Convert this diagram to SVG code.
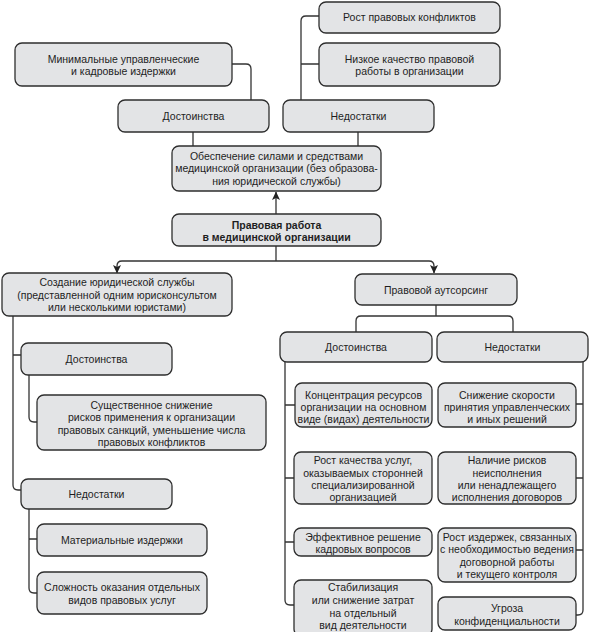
<svg xmlns="http://www.w3.org/2000/svg" width="590" height="632" viewBox="0 0 590 632">
<style>
.b{fill:#e3e4e6;stroke:#2e2e2e;stroke-width:1.3}
.t{font-family:"Liberation Sans",Arial,sans-serif;font-size:10.5px;fill:#1e1e1e;text-anchor:middle}
.bold{font-weight:bold}
.c{fill:none;stroke:#333;stroke-width:1.3}
</style>
<defs>
<marker id="ah" markerUnits="userSpaceOnUse" markerWidth="9" markerHeight="9" refX="8" refY="4.5" orient="auto" viewBox="0 0 9 9">
<path d="M0,0.5 L8.5,4.5 L0,8.5 L2,4.5 z" fill="#222"/>
</marker>
</defs>
<rect width="590" height="632" fill="#fff"/>
<g id="connectors">
<path class="c" d="M232,64 H246 Q251,64 251,69 V100"/>
<path class="c" d="M319,16 H306 Q301,16 301,21 V100 M301,64 H319"/>
<path class="c" d="M193,132 V146 M358,132 V146"/>
<path class="c" d="M276,214 V192" marker-end="url(#ah)"/>
<path class="c" d="M276,245 V261"/>
<path class="c" d="M276,261 H122 Q117,261 117,266 V273" marker-end="url(#ah)"/>
<path class="c" d="M276,261 H429 Q434,261 434,266 V273" marker-end="url(#ah)"/>
<path class="c" d="M436,305 V316 M436,316 H361 Q356,316 356,321 V332 M436,316 H508 Q513,316 513,321 V332"/>
<path class="c" d="M13,316 V485 Q13,490 18,490 H21 M13,355 H21"/>
<path class="c" d="M29,375 V417 Q29,422 34,422 H37"/>
<path class="c" d="M29,509 V588 Q29,593 34,593 H37 M29,539 H37"/>
<path class="c" d="M285,362 V600 Q285,605 290,605 H294 M285,405 H295 M285,478 H294 M285,542 H294"/>
<path class="c" d="M583,362 V610 Q583,615 578,615 H576 M583,404 H576 M583,478 H576 M583,550 H576"/>
</g>
<g id="n_min"><rect class="b" x="15" y="43" width="217" height="43" rx="7"/><text class="t" x="123.5" y="63">Минимальные управленческие</text><text class="t" x="123.5" y="75">и кадровые издержки</text></g>
<g id="n_rost"><rect class="b" x="319" y="2" width="181" height="31" rx="7"/><text class="t" x="409.5" y="21">Рост правовых конфликтов</text></g>
<g id="n_nizk"><rect class="b" x="319" y="43" width="181" height="43" rx="7"/><text class="t" x="409.5" y="63">Низкое качество правовой</text><text class="t" x="409.5" y="75">работы в организации</text></g>
<g id="n_dost1"><rect class="b" x="118" y="100" width="151" height="32" rx="7"/><text class="t" x="193.5" y="120">Достоинства</text></g>
<g id="n_ned1"><rect class="b" x="283" y="100" width="151" height="32" rx="7"/><text class="t" x="358.5" y="120">Недостатки</text></g>
<g id="n_obesp"><rect class="b" x="172" y="146" width="209" height="45" rx="7"/><text class="t" x="276.5" y="160">Обеспечение силами и средствами</text><text class="t" x="276.5" y="172">медицинской организации (без образова-</text><text class="t" x="276.5" y="184.5">ния юридической службы)</text></g>
<g id="n_main"><rect class="b" x="172" y="214" width="209" height="32" rx="7"/><text class="t bold" x="276.5" y="229">Правовая работа</text><text class="t bold" x="276.5" y="241">в медицинской организации</text></g>
<g id="n_sozd"><rect class="b" x="2" y="273" width="230" height="43" rx="7"/><text class="t" x="117" y="286">Создание юридической службы</text><text class="t" x="117" y="298.5">(представленной одним юрисконсультом</text><text class="t" x="117" y="311">или несколькими юристами)</text></g>
<g id="n_dost2"><rect class="b" x="21" y="343" width="151" height="32" rx="7"/><text class="t" x="96.5" y="363">Достоинства</text></g>
<g id="n_sush"><rect class="b" x="37" y="395" width="229" height="55" rx="7"/><text class="t" x="151.5" y="408.5">Существенное снижение</text><text class="t" x="151.5" y="421">рисков применения к организации</text><text class="t" x="151.5" y="433.5">правовых санкций, уменьшение числа</text><text class="t" x="151.5" y="446">правовых конфликтов</text></g>
<g id="n_ned2"><rect class="b" x="21" y="479" width="151" height="30" rx="7"/><text class="t" x="96.5" y="497.5">Недостатки</text></g>
<g id="n_mat"><rect class="b" x="37" y="524" width="170" height="32" rx="7"/><text class="t" x="122" y="543.5">Материальные издержки</text></g>
<g id="n_slozh"><rect class="b" x="37" y="572" width="170" height="42" rx="7"/><text class="t" x="122" y="591">Сложность оказания отдельных</text><text class="t" x="122" y="604">видов правовых услуг</text></g>
<g id="n_auts"><rect class="b" x="355" y="274" width="162" height="31" rx="7"/><text class="t" x="436" y="293.5">Правовой аутсорсинг</text></g>
<g id="n_dost3"><rect class="b" x="280" y="332" width="152" height="30" rx="7"/><text class="t" x="356" y="350.5">Достоинства</text></g>
<g id="n_ned3"><rect class="b" x="437" y="332" width="151" height="30" rx="7"/><text class="t" x="512.5" y="350.5">Недостатки</text></g>
<g id="n_konc"><rect class="b" x="295" y="383" width="137" height="44" rx="7"/><text class="t" x="363.5" y="399">Концентрация ресурсов</text><text class="t" x="363.5" y="411">организации на основном</text><text class="t" x="363.5" y="422.5">виде (видах) деятельности</text></g>
<g id="n_snizh"><rect class="b" x="438" y="383" width="138" height="44" rx="7"/><text class="t" x="507" y="399">Снижение скорости</text><text class="t" x="507" y="411">принятия управленческих</text><text class="t" x="507" y="422.5">и иных решений</text></g>
<g id="n_rostk"><rect class="b" x="294" y="452" width="138" height="52" rx="7"/><text class="t" x="363" y="464">Рост качества услуг,</text><text class="t" x="363" y="476.5">оказываемых сторонней</text><text class="t" x="363" y="489">специализированной</text><text class="t" x="363" y="501">организацией</text></g>
<g id="n_nal"><rect class="b" x="438" y="452" width="138" height="52" rx="7"/><text class="t" x="507" y="464">Наличие рисков</text><text class="t" x="507" y="476.5">неисполнения</text><text class="t" x="507" y="489">или ненадлежащего</text><text class="t" x="507" y="501">исполнения договоров</text></g>
<g id="n_eff"><rect class="b" x="294" y="528" width="138" height="28" rx="7"/><text class="t" x="363" y="541">Эффективное решение</text><text class="t" x="363" y="552.5">кадровых вопросов</text></g>
<g id="n_rosti"><rect class="b" x="438" y="528" width="138" height="54" rx="7"/><text class="t" x="507" y="541">Рост издержек, связанных</text><text class="t" x="507" y="553">с необходимостью ведения</text><text class="t" x="507" y="565.5">договорной работы</text><text class="t" x="507" y="577.5">и текущего контроля</text></g>
<g id="n_stab"><rect class="b" x="294" y="580" width="138" height="56" rx="7"/><text class="t" x="363" y="591">Стабилизация</text><text class="t" x="363" y="604">или снижение затрат</text><text class="t" x="363" y="616.5">на отдельный</text><text class="t" x="363" y="628.5">вид деятельности</text></g>
<g id="n_ugr"><rect class="b" x="438" y="597" width="138" height="33" rx="7"/><text class="t" x="507" y="612">Угроза</text><text class="t" x="507" y="625">конфиденциальности</text></g>
</svg>
